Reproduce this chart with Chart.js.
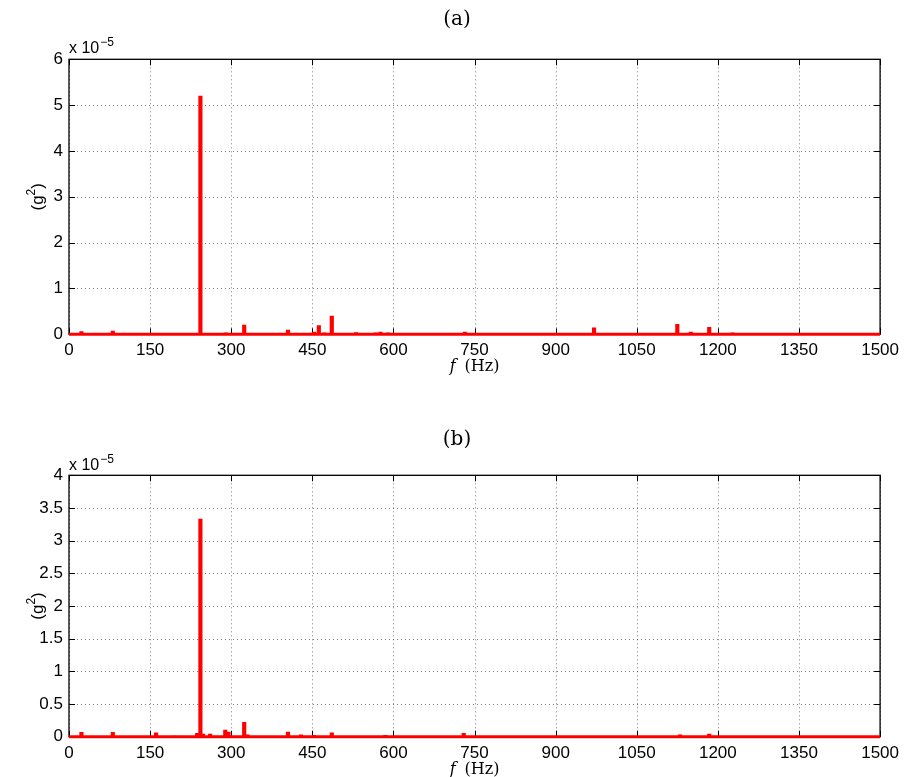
<!DOCTYPE html>
<html><head><meta charset="utf-8">
<script src="https://cdn.jsdelivr.net/npm/chart.js@4.4.0/dist/chart.umd.min.js"></script>
<style>
html,body{margin:0;padding:0;background:#fff;}
#wrap{position:relative;width:905px;height:777px;overflow:hidden;}
canvas{position:absolute;left:0;}
</style></head><body>
<div id="wrap">
<canvas id="ca" width="905" height="400" style="top:0px"></canvas>
<canvas id="cb" width="905" height="377" style="top:400px"></canvas>
</div>
<script>
// ---- data (PSD values in units of 1e-5 g^2) ----
const xTicks = [0, 150, 300, 450, 600, 750, 900, 1050, 1200, 1350, 1500];
const yTicksA = [0, 1, 2, 3, 4, 5, 6];
const yTicksB = [0, 0.5, 1, 1.5, 2, 2.5, 3, 3.5, 4];

const freqsA = [23, 81, 205, 212, 226, 243, 290, 324, 405, 453, 462, 472, 486, 531, 567, 576, 590, 648, 732, 971, 1125, 1150, 1184, 1227, 1341];
const psdA   = [0.06, 0.07, 0.02, 0.02, 0.02, 5.2, 0.03, 0.2, 0.09, 0.05, 0.19, 0.03, 0.4, 0.04, 0.03, 0.05, 0.03, 0.02, 0.05, 0.14, 0.22, 0.05, 0.15, 0.03, 0.02];

const freqsB = [23, 81, 161, 195, 237, 243, 248, 261, 289, 295, 324, 330, 405, 429, 453, 486, 585, 730, 1130, 1184];
const psdB   = [0.065, 0.065, 0.06, 0.01, 0.05, 3.33, 0.04, 0.04, 0.1, 0.07, 0.22, 0.03, 0.07, 0.03, 0.02, 0.06, 0.02, 0.05, 0.03, 0.04];

const baseline = [0, 1500];

const SANS = '"Liberation Sans", Arial, Helvetica, sans-serif';
const SERIF = '"DejaVu Serif", "Liberation Serif", serif';

function framePlugin(label, yTicks) {
  return {
    id: 'frame',
    beforeDatasetsDraw(chart) {
      const {ctx, chartArea: a, scales: {x, y}} = chart;
      ctx.save();
      // dotted grid
      ctx.strokeStyle = 'rgba(0,0,0,0.5)';
      ctx.lineWidth = 1;
      ctx.setLineDash([1, 3]);
      xTicks.forEach(v => {
        const px = Math.round(x.getPixelForValue(v)) + 0.5;
        ctx.beginPath(); ctx.moveTo(px, a.top); ctx.lineTo(px, a.bottom); ctx.stroke();
      });
      yTicks.forEach(v => {
        const py = Math.round(y.getPixelForValue(v)) + 0.5;
        ctx.beginPath(); ctx.moveTo(a.left, py); ctx.lineTo(a.right, py); ctx.stroke();
      });
      ctx.setLineDash([]);
      // box
      ctx.strokeStyle = '#000';
      ctx.lineWidth = 1.3;
      ctx.strokeRect(a.left, a.top, a.right - a.left, a.bottom - a.top);
      // inward ticks
      ctx.lineWidth = 1;
      const tl = 6;
      xTicks.forEach(v => {
        const px = Math.round(x.getPixelForValue(v)) + 0.5;
        ctx.beginPath();
        ctx.moveTo(px, a.bottom); ctx.lineTo(px, a.bottom - tl);
        ctx.moveTo(px, a.top); ctx.lineTo(px, a.top + tl);
        ctx.stroke();
      });
      yTicks.forEach(v => {
        const py = Math.round(y.getPixelForValue(v)) + 0.5;
        ctx.beginPath();
        ctx.moveTo(a.left, py); ctx.lineTo(a.left + tl, py);
        ctx.moveTo(a.right, py); ctx.lineTo(a.right - tl, py);
        ctx.stroke();
      });
      ctx.restore();
    },
    afterDraw(chart) {
      const {ctx, chartArea: a} = chart;
      ctx.save();
      ctx.fillStyle = '#000';
      // panel title
      ctx.font = '20px ' + SERIF;
      ctx.textAlign = 'center';
      ctx.textBaseline = 'alphabetic';
      ctx.fillText(label, 457, a.top - (label === '(a)' ? 34 : 30));
      // exponent
      ctx.textAlign = 'left';
      ctx.font = '16px ' + SANS;
      const ey = a.top - (label === '(a)' ? 6 : 5);
      ctx.fillText('x 10', a.left, ey);
      const w = ctx.measureText('x 10').width;
      ctx.font = '12px ' + SANS;
      ctx.fillText('\u22125', a.left + w + 1, ey - 7);
      // x label
      const xl = a.bottom + 37;
      ctx.font = 'italic 16px ' + SERIF;
      const fW = ctx.measureText('f').width;
      ctx.font = '16px ' + SERIF;
      const hzW = ctx.measureText('(Hz)').width;
      const total = fW + 9 + hzW;
      const cx = (a.left + a.right) / 2;
      let sx = cx - total / 2;
      ctx.font = 'italic 16px ' + SERIF;
      ctx.fillText('f', sx, xl);
      ctx.font = '16px ' + SERIF;
      ctx.fillText('(Hz)', sx + fW + 9, xl);
      // y label
      ctx.translate(43, (a.top + a.bottom) / 2);
      ctx.rotate(-Math.PI / 2);
      ctx.font = '17px ' + SANS;
      const p1 = ctx.measureText('(g').width;
      ctx.font = '12px ' + SANS;
      const p2 = ctx.measureText('2').width;
      ctx.font = '17px ' + SANS;
      const p3 = ctx.measureText(')').width;
      let t = -(p1 + p2 + p3) / 2;
      ctx.fillText('(g', t, 0);
      ctx.font = '12px ' + SANS;
      ctx.fillText('2', t + p1, -8);
      ctx.font = '17px ' + SANS;
      ctx.fillText(')', t + p1 + p2, 0);
      ctx.restore();
    }
  };
}

function makeChart(id, freqs, vals, yTicks, yMax, padTop, xAxisH, label) {
  const ctx = document.getElementById(id).getContext('2d');
  return new Chart(ctx, {
    type: 'bar',
    data: {
      datasets: [
        {
          type: 'line',
          data: baseline.map(f => ({x: f, y: 0})),
          borderColor: '#ff0000',
          borderWidth: 3,
          pointRadius: 0,
          clip: 3,
          order: 1
        },
        {
          type: 'bar',
          data: freqs.map((f, i) => ({x: f, y: vals[i]})),
          backgroundColor: '#ff0000',
          borderWidth: 0,
          barThickness: 3.5,
          order: 2
        }
      ]
    },
    options: {
      responsive: false,
      animation: false,
      devicePixelRatio: 1,
      events: [],
      layout: {padding: {top: padTop, right: 22.5, left: 0, bottom: 0}},
      plugins: {legend: {display: false}, tooltip: {enabled: false}, title: {display: false}},
      scales: {
        x: {
          type: 'linear', min: 0, max: 1500, offset: false,
          grid: {display: false, drawTicks: false},
          border: {display: false},
          afterBuildTicks: s => { s.ticks = xTicks.map(v => ({value: v})); },
          afterFit: s => { s.height = xAxisH; },
          ticks: {font: {family: SANS, size: 17}, color: '#000', padding: 6, maxRotation: 0, autoSkip: false,
                  callback: v => String(v)}
        },
        y: {
          type: 'linear', min: 0, max: yMax,
          grid: {display: false, drawTicks: false},
          border: {display: false},
          afterBuildTicks: s => { s.ticks = yTicks.map(v => ({value: v})); },
          afterFit: s => { s.width = 69; },
          ticks: {font: {family: SANS, size: 17}, color: '#000', padding: 6, autoSkip: false,
                  callback: v => String(v)}
        }
      }
    },
    plugins: [framePlugin(label, yTicks)]
  });
}

makeChart('ca', freqsA, psdA, yTicksA, 6, 59.3, 65.7, '(a)');
makeChart('cb', freqsB, psdB, yTicksB, 4, 75.3, 40.3, '(b)');
</script>
</body></html>
